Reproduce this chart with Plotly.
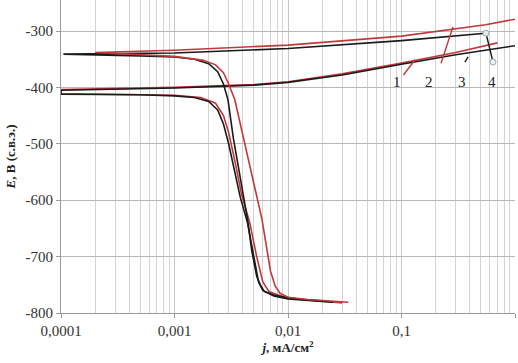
import math
import plotly.graph_objects as go

# ---- data (j in mA/cm2, E in mV) ----
# curve 1 (red, lower group)
c1_j = [0.03, 0.02, 0.013, 0.009, 0.0068, 0.006, 0.0053, 0.0046, 0.0039, 0.0034, 0.003, 0.0027, 0.0023, 0.0017, 0.001, 0.0001,
        0.0001, 0.001, 0.005, 0.01, 0.03, 0.1, 0.3, 0.7]
c1_E = [-782, -779, -776, -771, -762, -745, -700, -640, -590, -530, -480, -450, -428, -418, -414, -411,
        -404, -400, -395, -390, -376, -357, -338, -321]
# curve 2 (red, upper group)
c2_j = [0.034, 0.025, 0.015, 0.010, 0.0085, 0.0077, 0.0070, 0.0059, 0.0049, 0.0034, 0.0030, 0.0027, 0.0023, 0.0018, 0.001, 0.0005, 0.0002,
        0.0002, 0.001, 0.01, 0.1, 0.55, 1.0]
c2_E = [-781, -779, -776, -772, -765, -752, -725, -634, -564, -422, -394, -374, -360, -352, -345, -342, -339,
        -338, -334, -325, -309, -289, -279]
# curve 3 (black, lower group)
c3_j = [0.025, 0.018, 0.01, 0.0075, 0.006, 0.0055, 0.005, 0.0044, 0.0038, 0.0034, 0.003, 0.0027, 0.0024, 0.002, 0.0015, 0.001, 0.0005, 0.0001,
        0.0001, 0.001, 0.005, 0.01, 0.03, 0.1, 0.3, 1.0]
c3_E = [-781, -779, -775, -770, -760, -745, -700, -640, -595, -550, -500, -465, -440, -425, -418, -415, -413, -412,
        -405, -401, -396, -391, -378, -359, -342, -326]
# curve 4 (black, upper group)
c4_j = [0.022, 0.015, 0.010, 0.0075, 0.0062, 0.0057, 0.0053, 0.0048, 0.0044, 0.0038, 0.0033, 0.00296, 0.0027, 0.0024, 0.0020, 0.0015, 0.001, 0.0005, 0.000105,
        0.000105, 0.001, 0.01, 0.1, 0.3, 0.55]
c4_E = [-779, -777, -773, -768, -762, -750, -735, -690, -634, -564, -490, -422, -394, -372, -358, -350, -346, -344, -342,
        -341, -339, -331, -317, -309, -304]

# curve number labels
label_text = ["1", "2", "3", "4"]
label_j = [0.091, 0.176, 0.338, 0.627]
label_E = [-390, -390, -390, -390]
leader_j0 = [0.104, 0.223, 0.362, 0.64]
leader_E0 = [-378, -357, -355, -355]
leader_j1 = [0.1316, 0.284, 0.386, 0.555]
leader_E1 = [-351, -293, -346, -304]
leader_color = ["#c0393b", "#c0393b", "#1a1a1a", "#1a1a1a"]

x_tickvals = [0.0001, 0.001, 0.01, 0.1, 1]
x_ticktext = ["0,0001", "0,001", "0,01", "0,1", "1"]
y_tickvals = [-800, -700, -600, -500, -400, -300]
y_ticktext = ["-800", "-700", "-600", "-500", "-400", "-300"]

RED = "#c0393b"
BLACK = "#1a1a1a"

fig = go.Figure()
for j, E, col in [(c1_j, c1_E, RED), (c3_j, c3_E, BLACK), (c4_j, c4_E, BLACK), (c2_j, c2_E, RED)]:
    fig.add_trace(go.Scatter(x=j, y=E, mode="lines", line=dict(color=col, width=1.6),
                             showlegend=False, hoverinfo="skip"))

for k in range(4):
    fig.add_trace(go.Scatter(x=[leader_j0[k], leader_j1[k]], y=[leader_E0[k], leader_E1[k]], mode="lines",
                             line=dict(color=leader_color[k], width=1.4), showlegend=False, hoverinfo="skip"))
fig.add_trace(go.Scatter(x=[leader_j0[3], leader_j1[3]], y=[leader_E0[3], leader_E1[3]], mode="markers",
                         marker=dict(symbol="circle", size=6, color="#e8f0f4",
                                     line=dict(color="#8fa9b8", width=1)),
                         showlegend=False, hoverinfo="skip"))

for k in range(4):
    fig.add_annotation(x=math.log10(label_j[k]), y=label_E[k], text=label_text[k], showarrow=False,
                       font=dict(family="Liberation Serif", size=15, color="#222"))

fig.update_layout(
    width=518, height=363,
    margin=dict(l=61, r=3, t=0, b=50),
    plot_bgcolor="white", paper_bgcolor="white",
    font=dict(family="Liberation Serif", size=15, color="#333"),
    showlegend=False,
)
fig.update_xaxes(type="log", range=[-4, 0], tickvals=x_tickvals, ticktext=x_ticktext,
                 showgrid=True, gridcolor="#c8c8c8", gridwidth=1, automargin=False,
                 minor=dict(dtick="D1", showgrid=True, gridcolor="#d4d4d4", gridwidth=1, ticks=""),
                 showline=True, linecolor="#9a9a9a", linewidth=1, ticks="outside", ticklen=4,
                 tickcolor="#9a9a9a", zeroline=False,
                 title=dict(text="<b><i>j</i>, мА/см<sup>2</sup></b>", font=dict(size=13, color="#222"), standoff=4))
fig.update_yaxes(range=[-800, -245], tickvals=y_tickvals, ticktext=y_ticktext,
                 showgrid=True, gridcolor="#b8b8b8", gridwidth=1, automargin=False,
                 showline=True, linecolor="#9a9a9a", linewidth=1, ticks="outside", ticklen=4,
                 tickcolor="#9a9a9a", zeroline=False,
                 title=dict(text="<b><i>E</i>, В (с.в.э.)</b>", font=dict(size=13, color="#222"), standoff=6))

fig.write_html("out.html", config={"displayModeBar": False},
               post_script="document.body.style.margin='0';document.body.style.padding='0';")
